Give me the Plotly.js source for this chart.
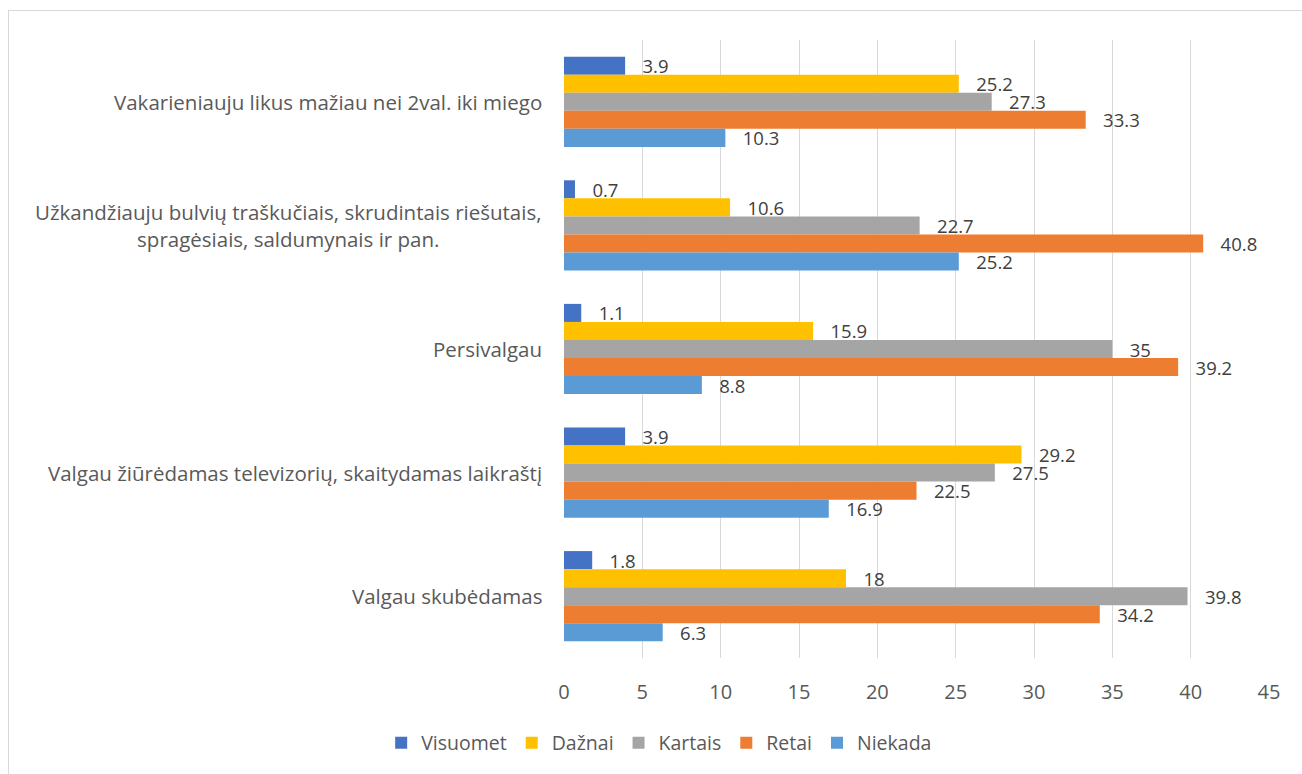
<!DOCTYPE html>
<html>
<head>
<meta charset="utf-8">
<script src="https://cdn.plot.ly/plotly-3.0.1.min.js"></script>
<style>
  html, body { margin: 0; padding: 0; background: #fff; }
  #frame { position: absolute; left: 8px; top: 10px; width: 1400px; height: 900px; border: 1px solid #d9d9d9; box-sizing: border-box; }
  #chart { position: absolute; left: 0; top: 0; width: 1302px; height: 774px; }
</style>
</head>
<body>
<div id="frame"></div>
<div id="chart"></div>
<script>
const categories = [
  "Vakarieniauju likus mažiau nei 2val. iki miego",
  "Užkandžiauju bulvių traškučiais, skrudintais riešutais,<br>spragėsiais, saldumynais ir pan.",
  "Persivalgau",
  "Valgau žiūrėdamas televizorių, skaitydamas laikraštį",
  "Valgau skubėdamas"
];
const seriesNames = ["Visuomet", "Dažnai", "Kartais", "Retai", "Niekada"];
const visuomet = [3.9, 0.7, 1.1, 3.9, 1.8];
const daznai   = [25.2, 10.6, 15.9, 29.2, 18];
const kartais  = [27.3, 22.7, 35, 27.5, 39.8];
const retai    = [33.3, 40.8, 39.2, 22.5, 34.2];
const niekada  = [10.3, 25.2, 8.8, 16.9, 6.3];
const xTicks = [0, 5, 10, 15, 20, 25, 30, 35, 40, 45];

const colors = ["#4472C4", "#FFC000", "#A5A5A5", "#ED7D31", "#5B9BD5"];
const values = [visuomet, daznai, kartais, retai, niekada];
const FONT = "Open Sans, Noto Sans, sans-serif";

const traces = values.map((v, i) => ({
  type: "bar",
  orientation: "h",
  name: seriesNames[i],
  x: v,
  y: categories,
  marker: { color: colors[i] },
  text: v.map(n => String(n)),
  texttemplate: "\u00a0\u00a0\u00a0%{text}",
  textposition: "outside",
  constraintext: "none",
  cliponaxis: false,
  textfont: { family: FONT, size: 18.5, color: "#404040" },
  hoverinfo: "x+name"
}));

const annotations = categories.map(c => ({
  xref: "paper", yref: "y",
  x: 0, y: c,
  xanchor: "right", yanchor: "middle",
  xshift: -20,
  text: c,
  align: "center",
  showarrow: false,
  font: { family: FONT, size: 20.5, color: "#595959" }
}));

const layout = {
  width: 1302, height: 774,
  margin: { l: 564, r: 33, t: 40, b: 116 },
  paper_bgcolor: "rgba(0,0,0,0)",
  plot_bgcolor: "rgba(0,0,0,0)",
  barmode: "group",
  bargap: 0.27,
  bargroupgap: 0,
  showlegend: true,
  legend: {
    orientation: "h",
    x: 0.135, xanchor: "center",
    y: -0.1375, yanchor: "middle",
    font: { family: FONT, size: 19.5, color: "#595959" },
    itemwidth: 30,
    traceorder: "normal"
  },
  xaxis: {
    range: [0, 45],
    tickvals: xTicks,
    ticktext: xTicks.map(String),
    showgrid: true,
    gridcolor: "#d9d9d9",
    gridwidth: 1,
    zeroline: false,
    showline: false,
    ticks: "",
    ticklabelstandoff: 20,
    tickfont: { family: FONT, size: 20, color: "#595959" },
    fixedrange: true
  },
  yaxis: {
    type: "category",
    autorange: "reversed",
    showticklabels: false,
    showgrid: false,
    zeroline: false,
    showline: false,
    ticks: "",
    fixedrange: true
  },
  annotations: annotations
};

Plotly.newPlot("chart", traces, layout, { displayModeBar: false, staticPlot: true });
</script>
</body>
</html>
